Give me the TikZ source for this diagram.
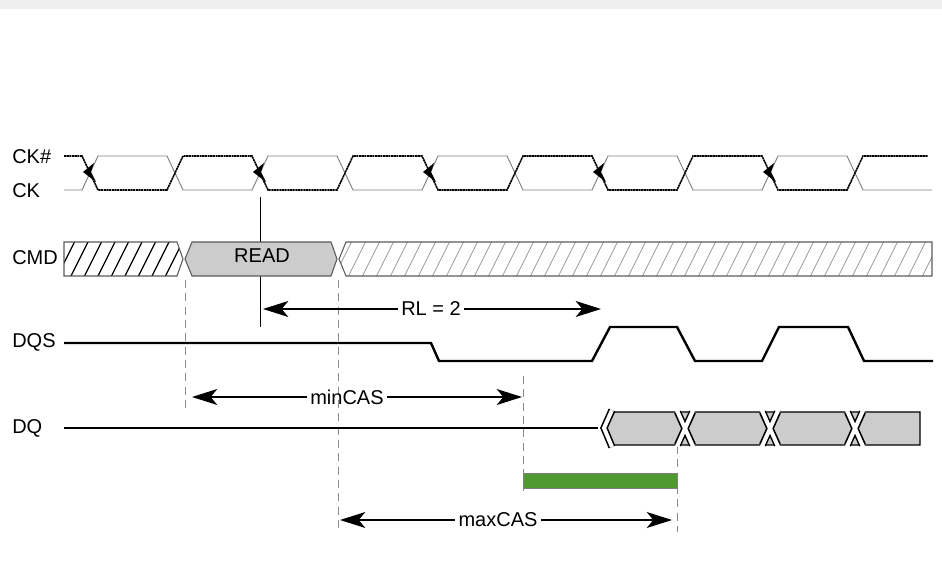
\documentclass[tikz,border=0pt]{standalone}
\usepackage{fontspec}
\setmainfont{Liberation Sans}
\usetikzlibrary{arrows.meta}
\definecolor{band}{HTML}{EFEFEF}
\definecolor{boxgray}{HTML}{CCCCCC}
\definecolor{edgegray}{HTML}{5A5A5A}
\definecolor{dashgray}{HTML}{8C8C8C}
\definecolor{hatchgray}{HTML}{9A9A9A}
\definecolor{casgreen}{HTML}{4E9A2E}
\begin{document}
\begin{tikzpicture}[x=0.75pt,y=-0.75pt,
  lbl/.style={font=\fontsize{15}{17}\selectfont, anchor=west, inner sep=0pt},
  mtxt/.style={font=\fontsize{15}{17}\selectfont, inner sep=2.5pt},
  ckdark/.style={black, line width=1.2pt, dash pattern=on 1.6pt off 0.4pt},
  cklight/.style={gray, line width=0.7pt},
  sig/.style={black, line width=1.8pt},
  guide/.style={dashgray, line width=0.7pt, dash pattern=on 6pt off 4pt},
  meas/.style={black, line width=0.8pt, -{Stealth[length=19pt,width=12pt,inset=5pt]}},
  edgetip/.style={fill=black},
  xout/.style={black, line width=5.4pt},
  xin/.style={white, line width=3.0pt}]
\useasboundingbox (0,0) rectangle (942,580);
\fill[band] (0,0) rectangle (942,9);

% labels
\node[lbl] (lckn) at (12,157) {CK\#};
\node[lbl] (lck)  at (12,191) {CK};
\node[lbl] (lcmd) at (12,258) {CMD};
\node[lbl] (ldqs) at (12,342) {DQS};
\node[lbl] (ldq)  at (12,428) {DQ};

% clock
\draw[cklight] (64,190) -- (82,190) -- (98,156) -- (167,156) -- (183,190) -- (252,190) -- (268,156) -- (337,156) -- (353,190) -- (422,190) -- (438,156) -- (507,156) -- (523,190) -- (592,190) -- (608,156) -- (677,156) -- (693,190) -- (762,190) -- (778,156) -- (847,156) -- (863,190) -- (932,190);
\draw[ckdark] (64,156) -- (82,156) -- (98,190) -- (167,190) -- (183,156) -- (252,156) -- (268,190) -- (337,190) -- (353,156) -- (422,156) -- (438,190) -- (507,190) -- (523,156) -- (592,156) -- (608,190) -- (677,190) -- (693,156) -- (762,156) -- (778,190) -- (847,190) -- (863,156) -- (928,156);
\foreach \c in {90,260,430,600,770}{
  \fill[edgetip] (\c-7,172) -- (\c+4,163) -- (\c+1,172) -- (\c+6,182) -- cycle;
}

% reference edge line
\coordinate (edgeTop) at (260,197);
\coordinate (edgeBot) at (260,327);
\draw[black, line width=0.75pt] (edgeTop) -- (edgeBot);

% CMD row
\begin{scope}
  \clip (64,242) -- (177,242) -- (183,259) -- (177,276) -- (64,276) -- cycle;
  \foreach \x in {30,43.5,...,200}{
    \draw[black, line width=1.0pt] (\x,277) -- (\x+18,241);
  }
\end{scope}
\draw[edgegray, line width=0.8pt] (64,242) -- (177,242) -- (183,259) -- (177,276) -- (64,276) -- cycle;
\draw[edgegray, line width=0.8pt, fill=boxgray] (185,259) -- (192,242) -- (331,242) -- (337,259) -- (331,276) -- (192,276) -- cycle;
\node[mtxt, inner sep=0pt] (read) at (262,256) {READ};
\begin{scope}
  \clip (339,259) -- (346,242) -- (932,242) -- (932,276) -- (346,276) -- cycle;
  \foreach \x in {320,334,...,950}{
    \draw[hatchgray, line width=0.6pt] (\x,277) -- (\x+18,241);
  }
\end{scope}
\draw[edgegray, line width=0.8pt] (339,259) -- (346,242) -- (932,242) -- (932,276) -- (346,276) -- cycle;

% guides
\draw[guide] (185,280) -- (185,410);
\draw[guide] (338,280) -- (338,530);
\draw[guide] (523,376) -- (523,495);
\draw[guide] (677,446) -- (677,532);

% RL arrow
\node[mtxt] (rl) at (431,309) {RL = 2};
\coordinate (rlL) at (263,309);
\coordinate (rlR) at (601,309);
\draw[meas] (rl.west) -- (rlL);
\draw[meas] (rl.east) -- (rlR);

% DQS
\draw[sig, line join=miter] (64,343) -- (431,343) -- (439,361) -- (592,361) -- (610,327) -- (677,327) -- (695,361) -- (762,361) -- (779,327) -- (848,327) -- (864,361) -- (933,361);

% minCAS
\node[mtxt] (mincas) at (347,397) {minCAS};
\coordinate (minL) at (192,397);
\coordinate (minR) at (522,397);
\draw[meas] (mincas.west) -- (minL);
\draw[meas] (mincas.east) -- (minR);

% DQ
\draw[sig] (64,428) -- (598,428);
\draw[black, line width=0.8pt, fill=boxgray] (603,428) -- (613,412) -- (920,412) -- (920,445) -- (613,445) -- cycle;
\draw[xout, line join=miter] (612,410) -- (604,428) -- (612,447);
\draw[xin, line join=miter] (612,410) -- (604,428) -- (612,447);
\foreach \c in {685,770,855}{
  \draw[xout] (\c-7.5,412) -- (\c+7.5,445) (\c+7.5,412) -- (\c-7.5,445);
  \draw[xin] (\c-8,410.5) -- (\c+8,446.5) (\c+8,410.5) -- (\c-8,446.5);
}

% green window
\draw[gray, line width=0.6pt, fill=casgreen] (523,473) rectangle (677,488);

% maxCAS
\node[mtxt] (maxcas) at (498,520) {maxCAS};
\coordinate (maxL) at (340,520);
\coordinate (maxR) at (672,520);
\draw[meas] (maxcas.west) -- (maxL);
\draw[meas] (maxcas.east) -- (maxR);
\end{tikzpicture}
\end{document}
